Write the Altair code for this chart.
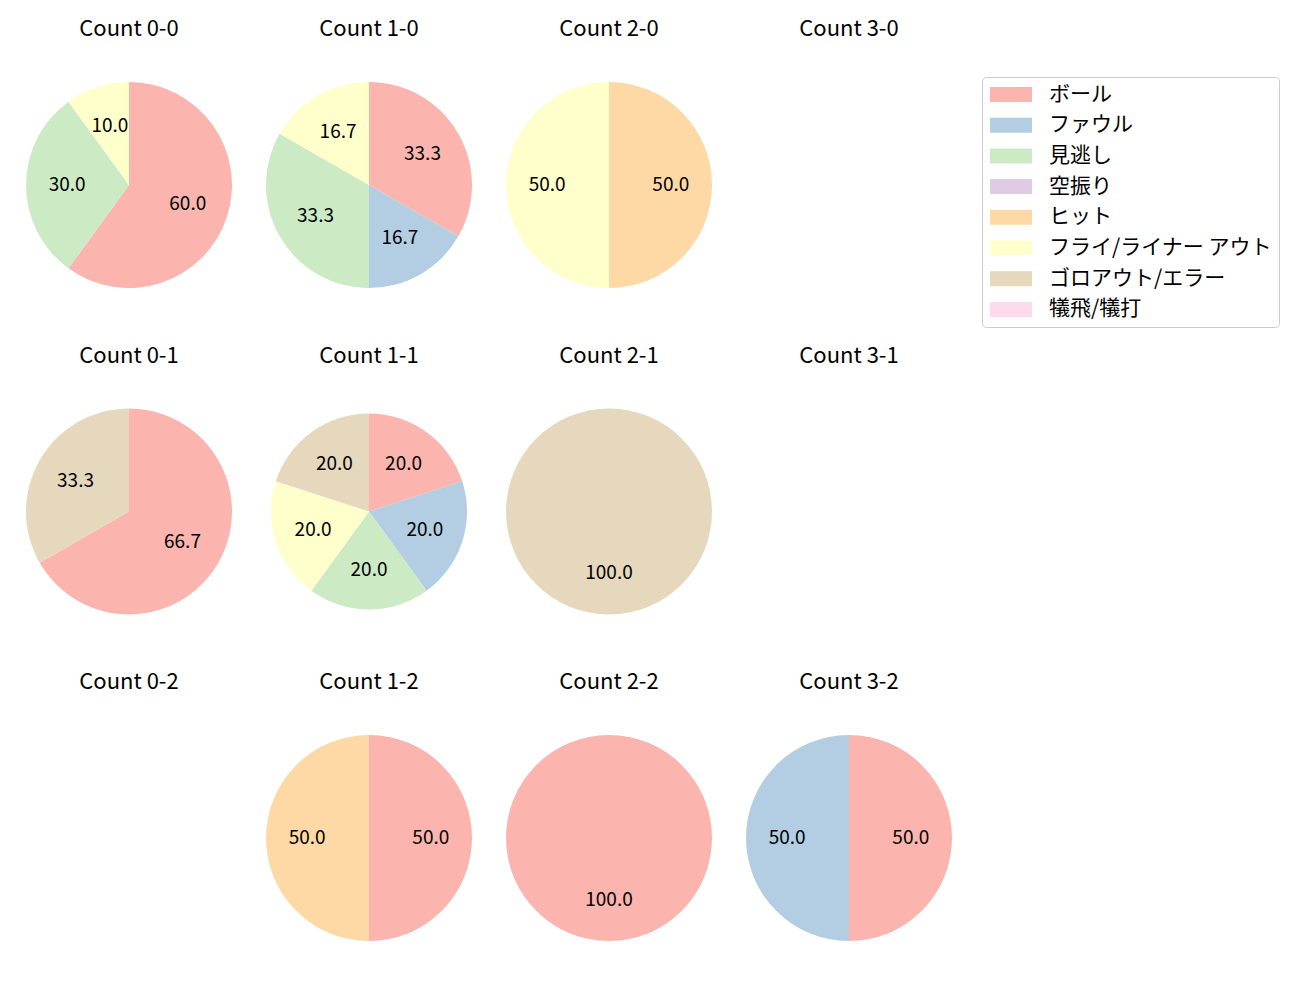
import altair as alt
import pandas as pd

FONT = "Noto Sans CJK JP"

categories = ["ボール", "ファウル", "見逃し", "空振り", "ヒット",
              "フライ/ライナー アウト", "ゴロアウト/エラー", "犠飛/犠打"]
colors = ["#fbb4ae", "#b3cde3", "#ccebc5", "#decbe4", "#fed9a6",
          "#ffffcc", "#e5d8bd", "#fddaec"]

grid = [["0-0", "1-0", "2-0", "3-0"],
        ["0-1", "1-1", "2-1", "3-1"],
        ["0-2", "1-2", "2-2", "3-2"]]

# percentage per category (same order as categories); 0 = absent
v_0_0 = [60.0, 0, 30.0, 0, 0, 10.0, 0, 0]
v_1_0 = [33.3, 16.7, 33.3, 0, 0, 16.7, 0, 0]
v_2_0 = [0, 0, 0, 0, 50.0, 50.0, 0, 0]
v_3_0 = [0, 0, 0, 0, 0, 0, 0, 0]
v_0_1 = [66.7, 0, 0, 0, 0, 0, 33.3, 0]
v_1_1 = [20.0, 20.0, 20.0, 0, 0, 20.0, 20.0, 0]
v_2_1 = [0, 0, 0, 0, 0, 0, 100.0, 0]
v_3_1 = [0, 0, 0, 0, 0, 0, 0, 0]
v_0_2 = [0, 0, 0, 0, 0, 0, 0, 0]
v_1_2 = [50.0, 0, 0, 0, 50.0, 0, 0, 0]
v_2_2 = [100.0, 0, 0, 0, 0, 0, 0, 0]
v_3_2 = [50.0, 50.0, 0, 0, 0, 0, 0, 0]

values = {"0-0": v_0_0, "1-0": v_1_0, "2-0": v_2_0, "3-0": v_3_0,
          "0-1": v_0_1, "1-1": v_1_1, "2-1": v_2_1, "3-1": v_3_1,
          "0-2": v_0_2, "1-2": v_1_2, "2-2": v_2_2, "3-2": v_3_2}

radii = {"1-1": 98}

rows = []
for name, vals in values.items():
    for i, (c, v) in enumerate(zip(categories, vals)):
        if v > 0:
            rows.append({"panel": name, "category": c, "idx": i, "value": v})
df = pd.DataFrame(rows)

color = alt.Color("category:N",
                  scale=alt.Scale(domain=categories, range=colors),
                  title=None,
                  legend=alt.Legend(orient="none", legendX=973, legendY=2))


def panel(name):
    r = radii.get(name, 103)
    base = alt.Chart(df).transform_filter(alt.datum.panel == name).encode(
        theta=alt.Theta("value:Q", stack=True),
        order=alt.Order("idx:Q", sort="ascending"),
    )
    arc = base.mark_arc(outerRadius=r).encode(color=color)
    txt = base.mark_text(radius=0.6 * r, fontSize=19, font=FONT,
                         color="black").encode(
        text=alt.Text("value:Q", format=".1f"))
    return alt.layer(arc, txt).properties(
        width=240, height=220,
        title=alt.TitleParams(f"Count {name}", fontSize=22, font=FONT,
                              fontWeight="normal", anchor="middle",
                              color="black", offset=34))


row_charts = [alt.hconcat(*[panel(n) for n in r], spacing=0)
              .resolve_scale(theta="independent") for r in grid]

chart = alt.vconcat(*row_charts, spacing=49.5).resolve_scale(
    theta="independent", color="shared"
).properties(
    padding={"left": 9, "top": 18, "right": 0, "bottom": 0}
).configure_view(stroke=None).configure_legend(
    labelFont=FONT, labelFontSize=21, labelColor="black", labelLimit=500,
    symbolType="M-1.27,-1H4.33V1H-1.27Z", symbolSize=225,
    symbolStrokeWidth=0, symbolOpacity=1,
    labelOffset=39, rowPadding=8.7, padding=7,
    fillColor="white", strokeColor="#cccccc", cornerRadius=4,
)

chart.save("out.html", embed_options={"renderer": "svg", "actions": False})
